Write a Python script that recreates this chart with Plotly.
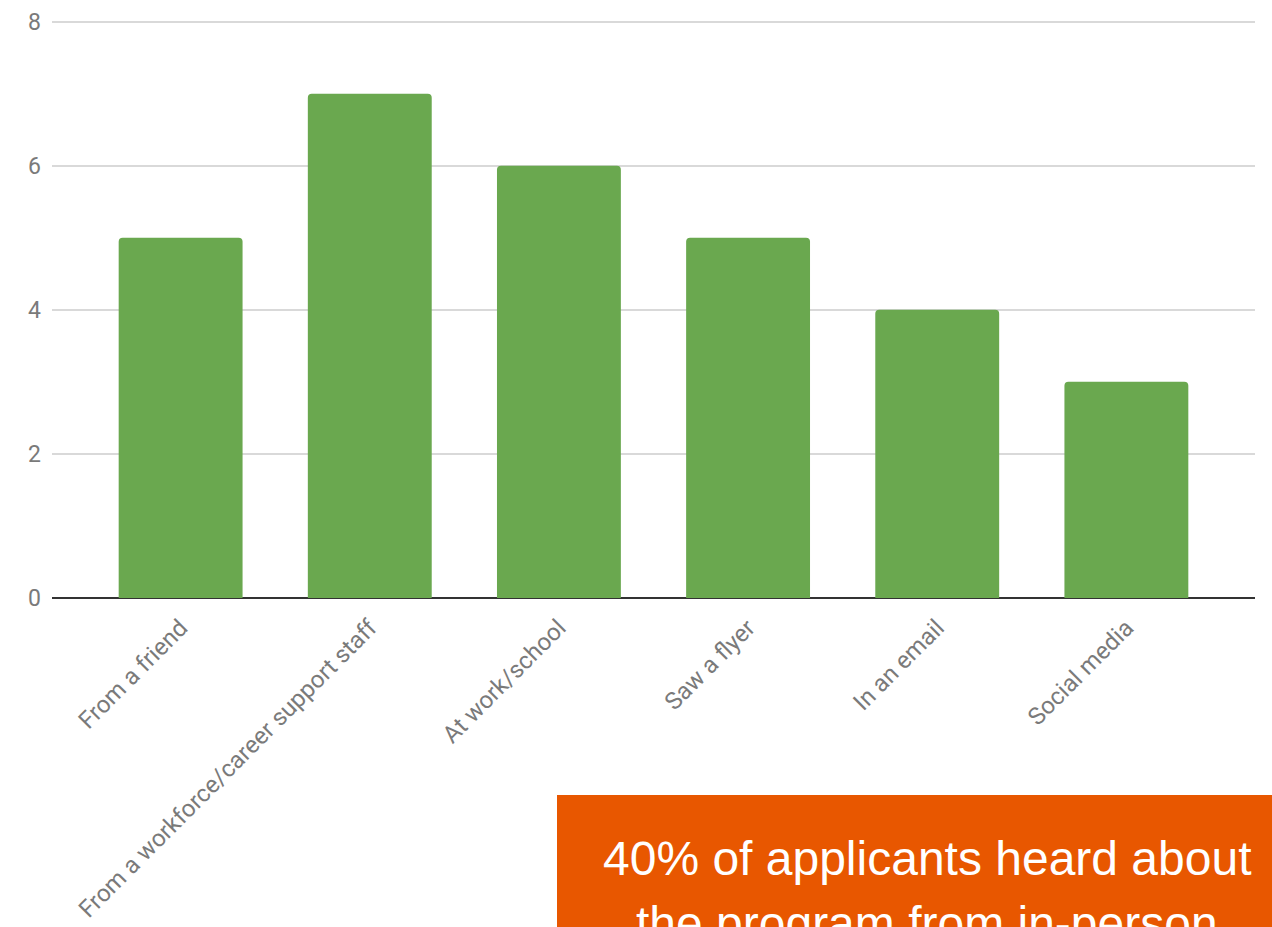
import plotly.graph_objects as go

# How applicants heard about the program
sources = [
    "From a friend",
    "From a workforce/career support staff",
    "At work/school",
    "Saw a flyer",
    "In an email",
    "Social media",
]
counts = [5, 7, 6, 5, 4, 3]
y_ticks = [0, 2, 4, 6, 8]

callout_lines = [
    "40% of applicants heard about",
    "the program from in-person",
]

fig = go.Figure(
    go.Bar(
        x=sources,
        y=counts,
        marker=dict(color="#6aa84f", cornerradius=4, line=dict(width=0)),
        width=0.655,
    )
)

fig.update_layout(
    width=1272,
    height=927,
    margin=dict(l=52, r=17, t=18, b=329),
    paper_bgcolor="white",
    plot_bgcolor="white",
    showlegend=False,
    font=dict(family="Roboto", color="#7a7a7a", size=24),
)

fig.update_xaxes(
    range=[-0.68, 5.68],
    tickangle=-45,
    showgrid=False,
    showline=False,
    ticks="",
    automargin=False,
    ticklabelstandoff=10,
    tickfont=dict(size=24, color="#7a7a7a"),
)
fig.update_yaxes(
    range=[0, 8.05],
    tickvals=y_ticks,
    showgrid=True,
    gridcolor="#d9d9d9",
    gridwidth=2,
    zeroline=True,
    zerolinecolor="#333333",
    zerolinewidth=2,
    showline=False,
    ticks="",
    automargin=False,
    ticklabelstandoff=10,
    tickfont=dict(size=23, color="#7a7a7a"),
)

# Orange callout box at the lower right
fig.add_shape(
    type="rect",
    xref="paper", yref="paper",
    x0=(557 - 52) / 1203, x1=(1280 - 52) / 1203,
    y0=(598 - 940) / 580, y1=(598 - 795) / 580,
    fillcolor="#e85700",
    line=dict(width=0),
    layer="above",
)
for i, line in enumerate(callout_lines):
    fig.add_annotation(
        xref="paper", yref="paper",
        x=(927 - 52) / 1203,
        y=(598 - (887 + 65 * i)) / 580,
        xanchor="center", yanchor="bottom",
        text=line,
        showarrow=False,
        font=dict(family="Liberation Sans", size=48, color="white"),
    )

fig.write_html("out.html")
